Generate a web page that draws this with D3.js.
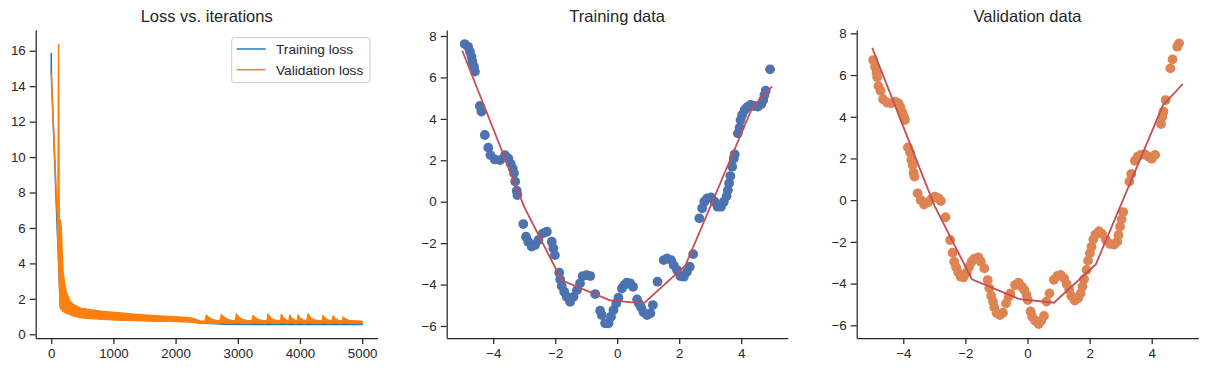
<html>
<head>
<meta charset="utf-8">
<script src="https://cdnjs.cloudflare.com/ajax/libs/d3/7.8.5/d3.min.js"></script>
<style>
  body { margin: 0; background: #fff; }
  text { font-family: "Liberation Sans", Arial, sans-serif; fill: #262626; }
</style>
</head>
<body>
<svg width="1207" height="372"></svg>
<script>
// loss curves: [iteration, low, high] envelope of the noisy curve
const trainLoss = [
  [0, 14.6, 15.85], [3, 14.6, 14.6], [95, 6.0, 6.0], [110, 4.8, 5.2], [145, 1.6, 5.0],
  [187, 1.4, 3.0], [214, 1.3, 2.2], [295, 1.15, 1.7], [483, 0.96, 1.35], [1073, 0.84, 1.15],
  [1610, 0.78, 1.0], [2200, 0.72, 0.9], [2400, 0.64, 0.72], [2800, 0.56, 0.7], [5000, 0.55, 0.68]
]
const valLoss = [
  [0, 14.7, 14.7], [100, 6.4, 6.4], [106, 5.3, 5.3], [118, 4.5, 16.35], [128, 3.0, 6.4],
  [145, 1.5, 6.45], [161, 1.4, 6.0], [187, 1.3, 3.6], [214, 1.25, 2.9], [241, 1.2, 2.4],
  [295, 1.12, 1.9], [348, 1.05, 1.7], [483, 0.93, 1.45], [804, 0.85, 1.3], [1073, 0.81, 1.22],
  [1341, 0.78, 1.13], [1610, 0.75, 1.06], [1878, 0.73, 1.0], [2200, 0.7, 0.95], [2307, 0.66, 0.86],
  [2400, 0.62, 0.74],
  [2475, 0.62, 0.75], [2494, 0.66, 1.08], [2530, 0.64, 0.96], [2590, 0.62, 0.84], [2670, 0.62, 0.76],
  [2715, 0.62, 0.76], [2736, 0.66, 1.12], [2772, 0.64, 0.98], [2830, 0.62, 0.85], [2910, 0.62, 0.77],
  [2960, 0.62, 0.76], [2977, 0.66, 1.14], [3012, 0.64, 0.98], [3070, 0.62, 0.84], [3160, 0.62, 0.77],
  [3228, 0.62, 0.76], [3246, 0.66, 1.05], [3280, 0.64, 0.93], [3335, 0.62, 0.82], [3420, 0.62, 0.76],
  [3470, 0.62, 0.76], [3487, 0.66, 1.14], [3520, 0.63, 0.95], [3575, 0.62, 0.82], [3650, 0.62, 0.76],
  [3688, 0.62, 0.76], [3702, 0.66, 1.12], [3735, 0.63, 0.92], [3790, 0.62, 0.78],
  [3822, 0.62, 0.76], [3836, 0.66, 1.08], [3868, 0.63, 0.9], [3925, 0.62, 0.78],
  [3956, 0.62, 0.76], [3970, 0.66, 1.08], [4002, 0.63, 0.9], [4060, 0.62, 0.79], [4110, 0.62, 0.76],
  [4131, 0.66, 1.14], [4165, 0.63, 0.95], [4220, 0.62, 0.82], [4300, 0.62, 0.76],
  [4357, 0.62, 0.76], [4372, 0.66, 1.05], [4405, 0.63, 0.9], [4460, 0.62, 0.79],
  [4518, 0.62, 0.76], [4533, 0.66, 1.03], [4565, 0.63, 0.88], [4620, 0.62, 0.78],
  [4680, 0.62, 0.76], [4694, 0.66, 0.97], [4730, 0.63, 0.86], [4790, 0.62, 0.78],
  [4850, 0.62, 0.76], [5000, 0.62, 0.74]
]

const trainX = [-4.92,-4.81,-4.75,-4.70,-4.67,-4.62,-4.59,-4.43,-4.38,-4.27,-4.16,-4.09,-3.95,-3.78,-3.62,-3.51,-3.44,-3.37,-3.33,-3.29,-3.24,-3.22,-3.03,-2.94,-2.87,-2.76,-2.65,-2.54,-2.40,-2.27,-2.11,-2.06,-2.01,-1.87,-1.84,-1.79,-1.71,-1.63,-1.52,-1.41,-1.30,-1.20,-1.11,-0.98,-0.87,-0.71,-0.55,-0.50,-0.39,-0.28,-0.20,-0.12,-0.03,0.04,0.15,0.23,0.31,0.42,0.51,0.64,0.70,0.77,0.85,0.96,1.07,1.15,1.30,1.50,1.61,1.74,1.82,1.93,2.04,2.15,2.25,2.34,2.45,2.65,2.74,2.81,2.90,3.03,3.14,3.24,3.35,3.44,3.53,3.57,3.61,3.65,3.71,3.76,3.79,3.89,3.95,3.98,4.03,4.11,4.19,4.30,4.41,4.54,4.65,4.71,4.75,4.79,4.93]
const trainY = [7.61,7.48,7.24,7.00,6.76,6.52,6.28,4.62,4.35,3.22,2.61,2.25,2.04,2.01,2.25,2.09,1.85,1.61,1.37,0.97,0.53,0.32,-1.08,-1.69,-1.93,-2.17,-2.09,-1.85,-1.53,-1.45,-1.93,-2.25,-2.58,-3.43,-3.75,-4.07,-4.35,-4.59,-4.83,-4.59,-4.27,-3.94,-3.59,-3.54,-3.59,-4.46,-5.26,-5.47,-5.87,-5.87,-5.55,-5.23,-4.91,-4.64,-4.19,-4.02,-3.91,-3.94,-4.11,-4.72,-4.91,-5.10,-5.34,-5.47,-5.39,-4.99,-3.86,-2.82,-2.74,-2.82,-3.06,-3.30,-3.59,-3.62,-3.38,-3.14,-2.53,-0.80,-0.32,0.00,0.16,0.21,0.00,-0.24,-0.24,0.00,0.27,0.56,0.89,1.24,1.69,2.09,2.29,3.30,3.59,3.94,4.19,4.43,4.56,4.67,4.62,4.59,4.72,4.91,5.15,5.36,6.39]

const valX = [-4.97,-4.91,-4.86,-4.84,-4.80,-4.73,-4.65,-4.52,-4.39,-4.26,-4.15,-4.09,-4.03,-3.98,-3.95,-3.85,-3.78,-3.74,-3.70,-3.67,-3.64,-3.54,-3.44,-3.33,-3.20,-3.09,-2.98,-2.86,-2.79,-2.64,-2.49,-2.41,-2.36,-2.30,-2.23,-2.15,-2.06,-1.95,-1.88,-1.80,-1.71,-1.58,-1.50,-1.39,-1.28,-1.23,-1.17,-1.11,-1.07,-1.00,-0.89,-0.79,-0.69,-0.61,-0.55,-0.40,-0.29,-0.18,-0.10,-0.03,0.01,0.10,0.15,0.25,0.36,0.44,0.53,0.61,0.71,0.85,0.96,1.07,1.18,1.26,1.34,1.41,1.52,1.63,1.71,1.77,1.82,1.90,1.95,2.01,2.06,2.12,2.19,2.30,2.40,2.53,2.66,2.79,2.89,2.93,2.98,3.03,3.08,3.28,3.34,3.46,3.55,3.65,3.78,3.89,4.00,4.11,4.30,4.34,4.38,4.45,4.60,4.67,4.82,4.88]
const valY = [6.72,6.40,6.11,5.89,5.47,5.25,4.84,4.68,4.64,4.72,4.64,4.45,4.21,4.00,3.84,2.53,2.28,1.93,1.69,1.32,1.13,0.33,0.01,-0.21,-0.10,0.06,0.17,0.09,-0.04,-0.82,-1.91,-2.52,-2.95,-3.22,-3.47,-3.67,-3.70,-3.47,-3.19,-2.95,-2.80,-2.74,-2.95,-3.27,-3.83,-4.22,-4.59,-4.87,-5.14,-5.40,-5.51,-5.40,-4.95,-4.63,-4.47,-4.07,-3.95,-4.15,-4.31,-4.55,-4.79,-5.34,-5.59,-5.78,-5.94,-5.78,-5.55,-4.86,-4.47,-3.82,-3.63,-3.59,-3.75,-4.02,-4.30,-4.59,-4.81,-4.70,-4.47,-4.14,-3.79,-3.35,-2.90,-2.55,-2.23,-1.88,-1.65,-1.49,-1.62,-1.91,-2.10,-2.13,-1.99,-1.67,-1.27,-0.92,-0.57,0.89,1.26,1.89,2.09,2.17,2.20,2.09,1.99,2.17,3.65,4.00,4.24,4.80,6.32,6.75,7.36,7.52]

// model prediction (same in both data panels)
const predX = [-5, -3.0, -1.79, -0.25, 0.85, 2.2, 4.36, 5.0]
const predY = [7.3, -0.25, -3.8, -4.75, -4.92, -3.08, 4.55, 5.57]

const lossXTicks = [0, 1000, 2000, 3000, 4000, 5000]
const lossYTicks = [0, 2, 4, 6, 8, 10, 12, 14, 16]
const dataXTicks = [-4, -2, 0, 2, 4]
const dataYTicks = [-6, -4, -2, 0, 2, 4, 6, 8]

const svg = d3.select('svg')
const plotTop = 30, plotBottom = 338
const ink = '#262626'

const drawAxes = (x, y, xt, yt, title) => {
  const g = svg.append('g')
  g.append('g').attr('transform', `translate(0,${plotBottom})`)
    .call(d3.axisBottom(x).tickValues(xt).tickSize(6).tickSizeOuter(0).tickPadding(4.5).tickFormat(d3.format('d')))
  g.append('g').attr('transform', `translate(${x.range()[0]},0)`)
    .call(d3.axisLeft(y).tickValues(yt).tickSize(6).tickSizeOuter(0).tickPadding(4).tickFormat(d3.format('d')))
  g.selectAll('.domain, .tick line').attr('stroke', ink).attr('stroke-width', 1.25)
  g.selectAll('.tick text').attr('font-size', 13.3).attr('fill', ink)
    .style('font-family', '"Liberation Sans", Arial, sans-serif')
  svg.append('text').attr('x', (x.range()[0] + x.range()[1]) / 2).attr('y', 21.7)
    .attr('text-anchor', 'middle').attr('font-size', 16.5).text(title)
}

// panel 1: loss
const xL = d3.scaleLinear().domain([-250, 5250]).range([35.7, 377.7])
const yL = d3.scaleLinear().domain([-0.21, 17.17]).range([plotBottom, plotTop])
const band = d3.area().x(d => xL(d[0])).y0(d => yL(d[1])).y1(d => yL(d[2]))
svg.append('path').datum(trainLoss).attr('d', band)
  .attr('fill', '#1f77b4').attr('stroke', '#1f77b4').attr('stroke-width', 1.5).attr('stroke-linejoin', 'round')
svg.append('path').datum(valLoss).attr('d', band)
  .attr('fill', '#ff7f0e').attr('stroke', '#ff7f0e').attr('stroke-width', 1.5).attr('stroke-linejoin', 'round')
drawAxes(xL, yL, lossXTicks, lossYTicks, 'Loss vs. iterations')

const legend = svg.append('g')
legend.append('rect').attr('x', 231.7).attr('y', 37.7).attr('width', 138.3).attr('height', 45).attr('rx', 3)
  .attr('fill', '#fff').attr('fill-opacity', 0.8).attr('stroke', '#cccccc')
;[['Training loss', '#1f77b4'], ['Validation loss', '#ff7f0e']].forEach(([name, c], i) => {
  const yy = 49 + i * 20.7
  legend.append('line').attr('x1', 236.7).attr('x2', 265.7).attr('y1', yy).attr('y2', yy)
    .attr('stroke', c).attr('stroke-width', 1.5)
  legend.append('text').attr('x', 276).attr('y', yy + 4.8).attr('font-size', 13.7).text(name)
})

// panels 2 and 3: data + prediction
const drawData = (x0, x1, yDom, xs, ys, colour, title) => {
  const x = d3.scaleLinear().domain([-5.5, 5.5]).range([x0, x1])
  const y = d3.scaleLinear().domain(yDom).range([plotBottom, plotTop])
  svg.append('g').selectAll('circle').data(xs).join('circle')
    .attr('cx', d => x(d)).attr('cy', (d, i) => y(ys[i])).attr('r', 4.9)
    .attr('fill', colour)
  svg.append('path').datum(predX.map((d, i) => [d, predY[i]]))
    .attr('d', d3.line().x(d => x(d[0])).y(d => y(d[1])))
    .attr('fill', 'none').attr('stroke', '#c44e52').attr('stroke-width', 1.8)
  drawAxes(x, y, dataXTicks, dataYTicks, title)
}
drawData(446.7, 787.7, [-6.58, 8.29], trainX, trainY, '#4c72b0', 'Training data')
drawData(856.7, 1198.3, [-6.61, 8.16], valX, valY, '#dd8452', 'Validation data')
</script>
</body>
</html>
